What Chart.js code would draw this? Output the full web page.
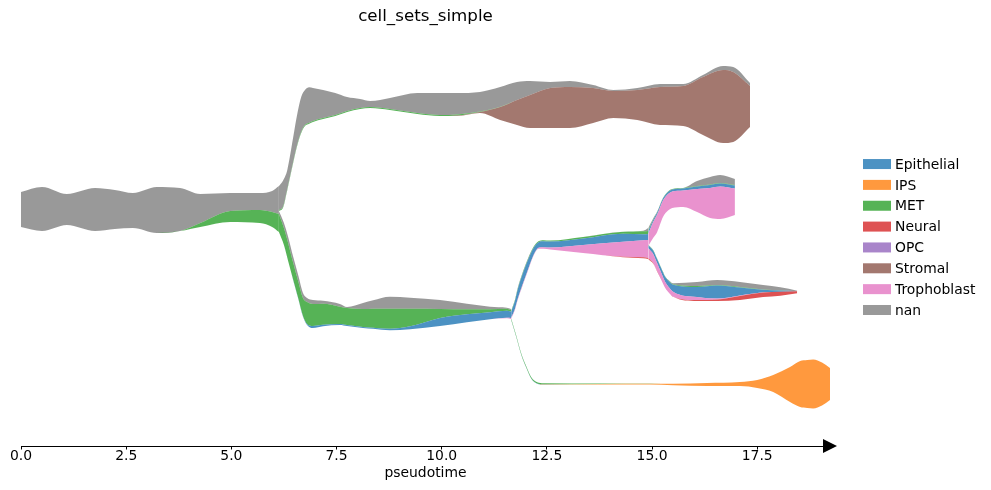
<!DOCTYPE html>
<html>
<head>
<meta charset="utf-8">
<title>cell_sets_simple</title>
<script src="https://cdn.jsdelivr.net/npm/chart.js@4.4.1/dist/chart.umd.min.js"></script>
<style>
  html, body { margin: 0; padding: 0; background: #fff; }
  canvas { display: block; }
</style>
</head>
<body>
<canvas id="chart" width="991" height="490"></canvas>
<script>
// legend categories and their colours (tab10, alpha .8)
var categories = ['Epithelial', 'IPS', 'MET', 'Neural', 'OPC', 'Stromal', 'Trophoblast', 'nan'];
var categoryColors = [
	'rgba(31, 119, 180, 0.8)',
	'rgba(255, 127, 14, 0.8)',
	'rgba(44, 160, 44, 0.8)',
	'rgba(214, 39, 40, 0.8)',
	'rgba(148, 103, 189, 0.8)',
	'rgba(140, 86, 75, 0.8)',
	'rgba(227, 119, 194, 0.8)',
	'rgba(127, 127, 127, 0.8)'
];
// bottom -> top inside each stream
var stackOrder = ['IPS', 'Neural', 'Trophoblast', 'Stromal', 'Epithelial', 'MET', 'nan'];
var xTicks = [0, 2.5, 5, 7.5, 10, 12.5, 15, 17.5];

/**
 * Root segment
 */
var rootX   = [0, 0.50, 1.09, 1.76, 2.23, 2.66, 3.23, 3.78, 4.26, 4.97, 5.68, 5.97, 6.13];
var rootMid = [23.65, 23.7, 23.65, 23.65, 23.65, 23.55, 23.6, 23.65, 23.55, 23.85, 23.8, 23.7, 23.7];
var rootNan = [3.5, 4.4, 3.1, 4.3, 3.9, 3.5, 4.6, 4.3, 2.9, 1.8, 1.7, 2.1, 2.8];
var rootMET = [0, 0, 0, 0, 0, 0, 0, 0, 0.4, 1.1, 1.3, 1.5, 1.8];

/**
 * Upper branch (stromal)
 */
var upperX = [6.13, 6.23, 6.33, 6.47, 6.56, 6.66, 6.75, 6.85, 6.94, 7.18, 7.47, 7.75, 8.06, 8.30, 8.77, 9.42, 9.96,
	10.37, 10.91, 11.39, 11.79, 12.10, 12.58, 13.05, 13.60, 14.08, 14.65, 15.19, 15.74, 16.21, 16.69, 16.93, 17.33];
var upperMid = [24.75, 25.2, 26.6, 29.6, 31.5, 33.1, 33.8, 34.05, 34.1, 34.15, 34.15, 34.15, 34.2, 34.15, 34.2, 34.25, 34.15,
	34.15, 34.35, 34.25, 34.25, 34.15, 34.1, 34.15, 34.2, 34.2, 34.2, 34.15, 34.1, 34.1, 34.15, 34.15, 34.1];
var upperNan = [2.4, 2.6, 1.9, 2.45, 3.0, 3.5, 3.5, 3.55, 3.3, 2.8, 2.2, 1.4, 0.9, 0.6, 1.1, 2.0, 2.2,
	2.15, 1.95, 1.97, 1.8, 1.4, 0.6, 0.6, 0.3, 0.1, 0.2, 0.3, 0.2, 0.2, 0.4, 0.5, 0.3];
var upperMET = [0.1, 0.1, 0.1, 0.1, 0.1, 0.1, 0.1, 0.1, 0.1, 0.1, 0.1, 0.1, 0.1, 0.1, 0.1, 0.1, 0.1,
	0.1, 0.05, 0.03, 0, 0, 0, 0, 0, 0, 0, 0, 0, 0, 0, 0, 0];
var upperStromal = [0, 0, 0, 0, 0, 0, 0, 0, 0, 0, 0, 0, 0, 0, 0, 0, 0,
	0.05, 0.1, 1.3, 2.5, 3.3, 4.0, 4.1, 3.5, 2.7, 3.0, 3.8, 4.0, 5.8, 7.3, 7.0, 4.1];

/**
 * Lower branch (MET / epithelial)
 */
var lowerX = [6.13, 6.25, 6.35, 6.47, 6.59, 6.70, 6.80, 6.94, 7.18, 7.58, 7.75, 8.13, 8.37, 8.77, 9.25, 9.96, 10.60, 11.15, 11.55, 11.65];
var lowerMid = [22.45, 21.2, 19.7, 17.75, 15.9, 14.15, 13.45, 13.2, 13.25, 13.15, 12.95, 13.05, 13.15, 13.25, 13.25, 13.3, 13.3, 13.3, 13.3, 13.2];
var lowerNan = [0.3, 0.5, 0.6, 0.6, 0.6, 0.5, 0.4, 0.4, 0.3, 0.27, 0.1, 0.6, 0.85, 1.2, 1.1, 0.9, 0.55, 0.25, 0.1, 0.08];
var lowerMET = [1.8, 1.7, 1.8, 1.7, 1.7, 1.8, 2.2, 2.2, 2.1, 1.73, 1.7, 1.8, 1.9, 2.0, 1.75, 0.9, 0.5, 0.3, 0.2, 0.15];
var lowerEpithelial = [0, 0, 0.02, 0.03, 0.03, 0.05, 0.1, 0.2, 0.15, 0.1, 0.1, 0.1, 0.1, 0.15, 0.3, 0.8, 0.8, 0.7, 0.7, 0.65];
var lowerTrophoblast = [0, 0, 0, 0, 0, 0, 0, 0, 0, 0, 0, 0, 0, 0, 0, 0, 0, 0, 0.03, 0.1];

/**
 * Middle branch (epithelial / trophoblast)
 */
var midX = [11.65, 11.74, 11.81, 11.94, 12.06, 12.18, 12.30, 12.42, 12.58, 13.36, 14.31, 14.79, 14.91];
var midMid = [13.1, 14.1, 15.25, 16.9, 18.25, 19.45, 20.1, 20.15, 20.1, 20.1, 20.15, 20.15, 20.25];
var midNan = [0, 0, 0.05, 0.05, 0.05, 0.03, 0, 0, 0, 0, 0, 0.05, 0.3];
var midMET = [0.1, 0.1, 0.1, 0.1, 0.1, 0.1, 0.1, 0.1, 0.1, 0.15, 0.2, 0.3, 0.3];
var midEpithelial = [0.6, 0.8, 0.95, 1.05, 0.95, 0.7, 0.55, 0.6, 0.6, 0.65, 0.8, 0.6, 0.6];
var midTrophoblast = [0.1, 0.1, 0.1, 0.1, 0.1, 0.07, 0.1, 0.15, 0.2, 0.8, 1.5, 1.7, 1.8];
var midNeural = [0.02, 0.02, 0.02, 0, 0, 0, 0, 0, 0, 0, 0.05, 0.1, 0.1];

/**
 * Bottom branch (IPS)
 */
var bottomX = [11.65, 11.77, 11.89, 12.01, 12.13, 12.27, 12.42, 13.77, 14.95, 15.50, 16.31, 17.09, 17.50, 17.88, 18.28, 18.52, 18.69, 18.83, 19.04, 19.23];
var bottomMid = [12.7, 11.0, 9.2, 7.9, 6.8, 6.3, 6.2, 6.2, 6.2, 6.15, 6.15, 6.2, 6.2, 6.25, 6.15, 6.2, 6.2, 6.2, 6.2, 6.2];
var bottomMET = [0.12, 0.12, 0.12, 0.12, 0.12, 0.12, 0.1, 0.05, 0.02, 0, 0, 0, 0, 0, 0, 0, 0, 0, 0, 0];
var bottomEpithelial = [0.03, 0.03, 0.03, 0.03, 0.03, 0.02, 0.02, 0, 0, 0, 0, 0, 0, 0, 0, 0, 0, 0, 0, 0];
var bottomIPS = [0, 0, 0, 0, 0, 0, 0.02, 0.05, 0.08, 0.15, 0.3, 0.4, 0.8, 1.7, 3.5, 4.6, 4.8, 4.9, 4.3, 3.2];

/**
 * Trophoblast tip (upper right)
 */
var tropX = [14.91, 15.03, 15.12, 15.26, 15.38, 15.48, 15.74, 16.07, 16.38, 16.62, 16.97];
var tropMid = [20.9, 21.8, 22.4, 23.85, 24.5, 24.75, 24.85, 24.95, 24.85, 24.9, 24.9];
var tropNan = [0.2, 0.1, 0.05, 0, 0, 0, 0, 0.5, 0.75, 0.8, 0.6];
var tropMET = [0.1, 0.05, 0.05, 0.05, 0.05, 0.05, 0.05, 0.05, 0.05, 0.05, 0.05];
var tropEpithelial = [0.3, 0.2, 0.2, 0.2, 0.2, 0.2, 0.2, 0.25, 0.3, 0.3, 0.3];
var tropTrophoblast = [1.2, 1.6, 1.75, 1.65, 1.65, 1.65, 1.65, 2.3, 3.0, 3.25, 2.65];

/**
 * Neural tip (lower right)
 */
var neurX = [14.91, 15.03, 15.12, 15.22, 15.31, 15.41, 15.50, 16.07, 16.55, 17.09, 17.64, 18.05, 18.45];
var neurMid = [19.4, 18.9, 18.1, 17.2, 16.4, 15.9, 15.6, 15.45, 15.55, 15.5, 15.5, 15.45, 15.4];
var neurNan = [0, 0, 0, 0, 0, 0.05, 0.1, 0.4, 0.5, 0.5, 0.45, 0.3, 0.05];
var neurMET = [0.05, 0.05, 0.05, 0.05, 0.05, 0.05, 0.05, 0.1, 0.05, 0.05, 0.03, 0.02, 0];
var neurEpithelial = [0.3, 0.35, 0.4, 0.45, 0.5, 0.6, 0.7, 1.0, 1.3, 0.8, 0.25, 0.12, 0.02];
var neurTrophoblast = [1.0, 0.9, 0.8, 0.7, 0.6, 0.55, 0.5, 0.3, 0.1, 0.05, 0.02, 0, 0];
var neurNeural = [0.1, 0.05, 0.03, 0.02, 0.02, 0.02, 0.02, 0.1, 0.15, 0.4, 0.45, 0.4, 0.2];

var segments = [
	{ x: rootX, mid: rootMid, parts: { nan: rootNan, MET: rootMET } },
	{ x: upperX, mid: upperMid, parts: { nan: upperNan, MET: upperMET, Stromal: upperStromal } },
	{ x: lowerX, mid: lowerMid, parts: { nan: lowerNan, MET: lowerMET, Epithelial: lowerEpithelial, Trophoblast: lowerTrophoblast } },
	{ x: midX, mid: midMid, parts: { nan: midNan, MET: midMET, Epithelial: midEpithelial, Trophoblast: midTrophoblast, Neural: midNeural } },
	{ x: bottomX, mid: bottomMid, parts: { MET: bottomMET, Epithelial: bottomEpithelial, IPS: bottomIPS } },
	{ x: tropX, mid: tropMid, parts: { nan: tropNan, MET: tropMET, Epithelial: tropEpithelial, Trophoblast: tropTrophoblast } },
	{ x: neurX, mid: neurMid, parts: { nan: neurNan, MET: neurMET, Epithelial: neurEpithelial, Trophoblast: neurTrophoblast, Neural: neurNeural } }
];

var colorOf = function(name) {
	return categoryColors[categories.indexOf(name)];
};

var makeLine = function(xs, ys, fill, color) {
	return {
		data: xs.map(function(x, i) { return { x: x, y: ys[i] }; }),
		fill: fill,
		backgroundColor: color,
		borderColor: 'rgba(0,0,0,0)',
		borderWidth: 0,
		pointRadius: 0,
		pointHoverRadius: 0,
		cubicInterpolationMode: 'monotone'
	};
};

// each stream: a base line, then one boundary per category filled down to the previous one
var datasets = [];
segments.forEach(function(seg) {
	var totals = seg.x.map(function(_, i) {
		var t = 0;
		for (var name in seg.parts) {
			t += seg.parts[name][i];
		}
		return t;
	});
	var level = seg.mid.map(function(m, i) { return m - totals[i] / 2; });
	datasets.push(makeLine(seg.x, level, false, 'rgba(0,0,0,0)'));
	stackOrder.forEach(function(name) {
		var part = seg.parts[name];
		if (!part) {
			return;
		}
		level = level.map(function(v, i) { return v + part[i]; });
		datasets.push(makeLine(seg.x, level, '-1', colorOf(name)));
	});
});

// arrow head on the x axis + legend at the right
var axisExtras = {
	id: 'axisExtras',
	afterDraw: function(chart) {
		var ctx = chart.ctx;
		var area = chart.chartArea;
		ctx.save();
		ctx.fillStyle = '#000';
		ctx.beginPath();
		ctx.moveTo(area.right - 7, area.bottom - 7);
		ctx.lineTo(area.right + 7, area.bottom);
		ctx.lineTo(area.right - 7, area.bottom + 7);
		ctx.closePath();
		ctx.fill();

		var rowH = 20.85;
		var centre = (area.top + area.bottom) / 2;
		ctx.font = '13.9px "DejaVu Sans"';
		ctx.textBaseline = 'middle';
		ctx.textAlign = 'left';
		categories.forEach(function(name, i) {
			var y = centre + (i - (categories.length - 1) / 2) * rowH;
			ctx.fillStyle = categoryColors[i];
			ctx.fillRect(area.right + 33, y - 5, 28, 10);
			ctx.fillStyle = '#000';
			ctx.fillText(name, area.right + 65, y + 1);
		});
		ctx.restore();
	}
};

Chart.defaults.font.family = '"DejaVu Sans", sans-serif';
Chart.defaults.color = '#000';

var tickFont = { family: '"DejaVu Sans", sans-serif', size: 13.9 };

new Chart(document.getElementById('chart'), {
	type: 'line',
	data: { datasets: datasets },
	plugins: [axisExtras],
	options: {
		responsive: false,
		animation: false,
		events: [],
		layout: { padding: { left: 21, right: 161, top: 7, bottom: 0 } },
		plugins: {
			legend: { display: false },
			tooltip: { enabled: false },
			title: {
				display: true,
				text: 'cell_sets_simple',
				fullSize: false,
				color: '#000',
				font: { family: '"DejaVu Sans", sans-serif', size: 16.7, weight: 'normal' },
				padding: { top: 0, bottom: 1 }
			}
		},
		scales: {
			x: {
				type: 'linear',
				min: 0,
				max: 19.23,
				afterBuildTicks: function(scale) {
					scale.ticks = xTicks.map(function(v) { return { value: v }; });
				},
				afterFit: function(scale) {
					scale.height = 44;
				},
				grid: { display: true, drawOnChartArea: false, drawTicks: true, tickLength: 3.5, color: '#000' },
				border: { display: true, color: '#000', width: 1 },
				ticks: {
					autoSkip: false,
					maxRotation: 0,
					padding: -1,
					color: '#000',
					font: tickFont,
					callback: function(v) { return Number(v).toFixed(1); }
				},
				title: {
					display: true,
					text: 'pseudotime',
					color: '#000',
					font: tickFont,
					padding: { top: 0, bottom: 8.5 }
				}
			},
			y: { display: false, min: 0, max: 41.8 }
		}
	}
});
</script>
</body>
</html>
